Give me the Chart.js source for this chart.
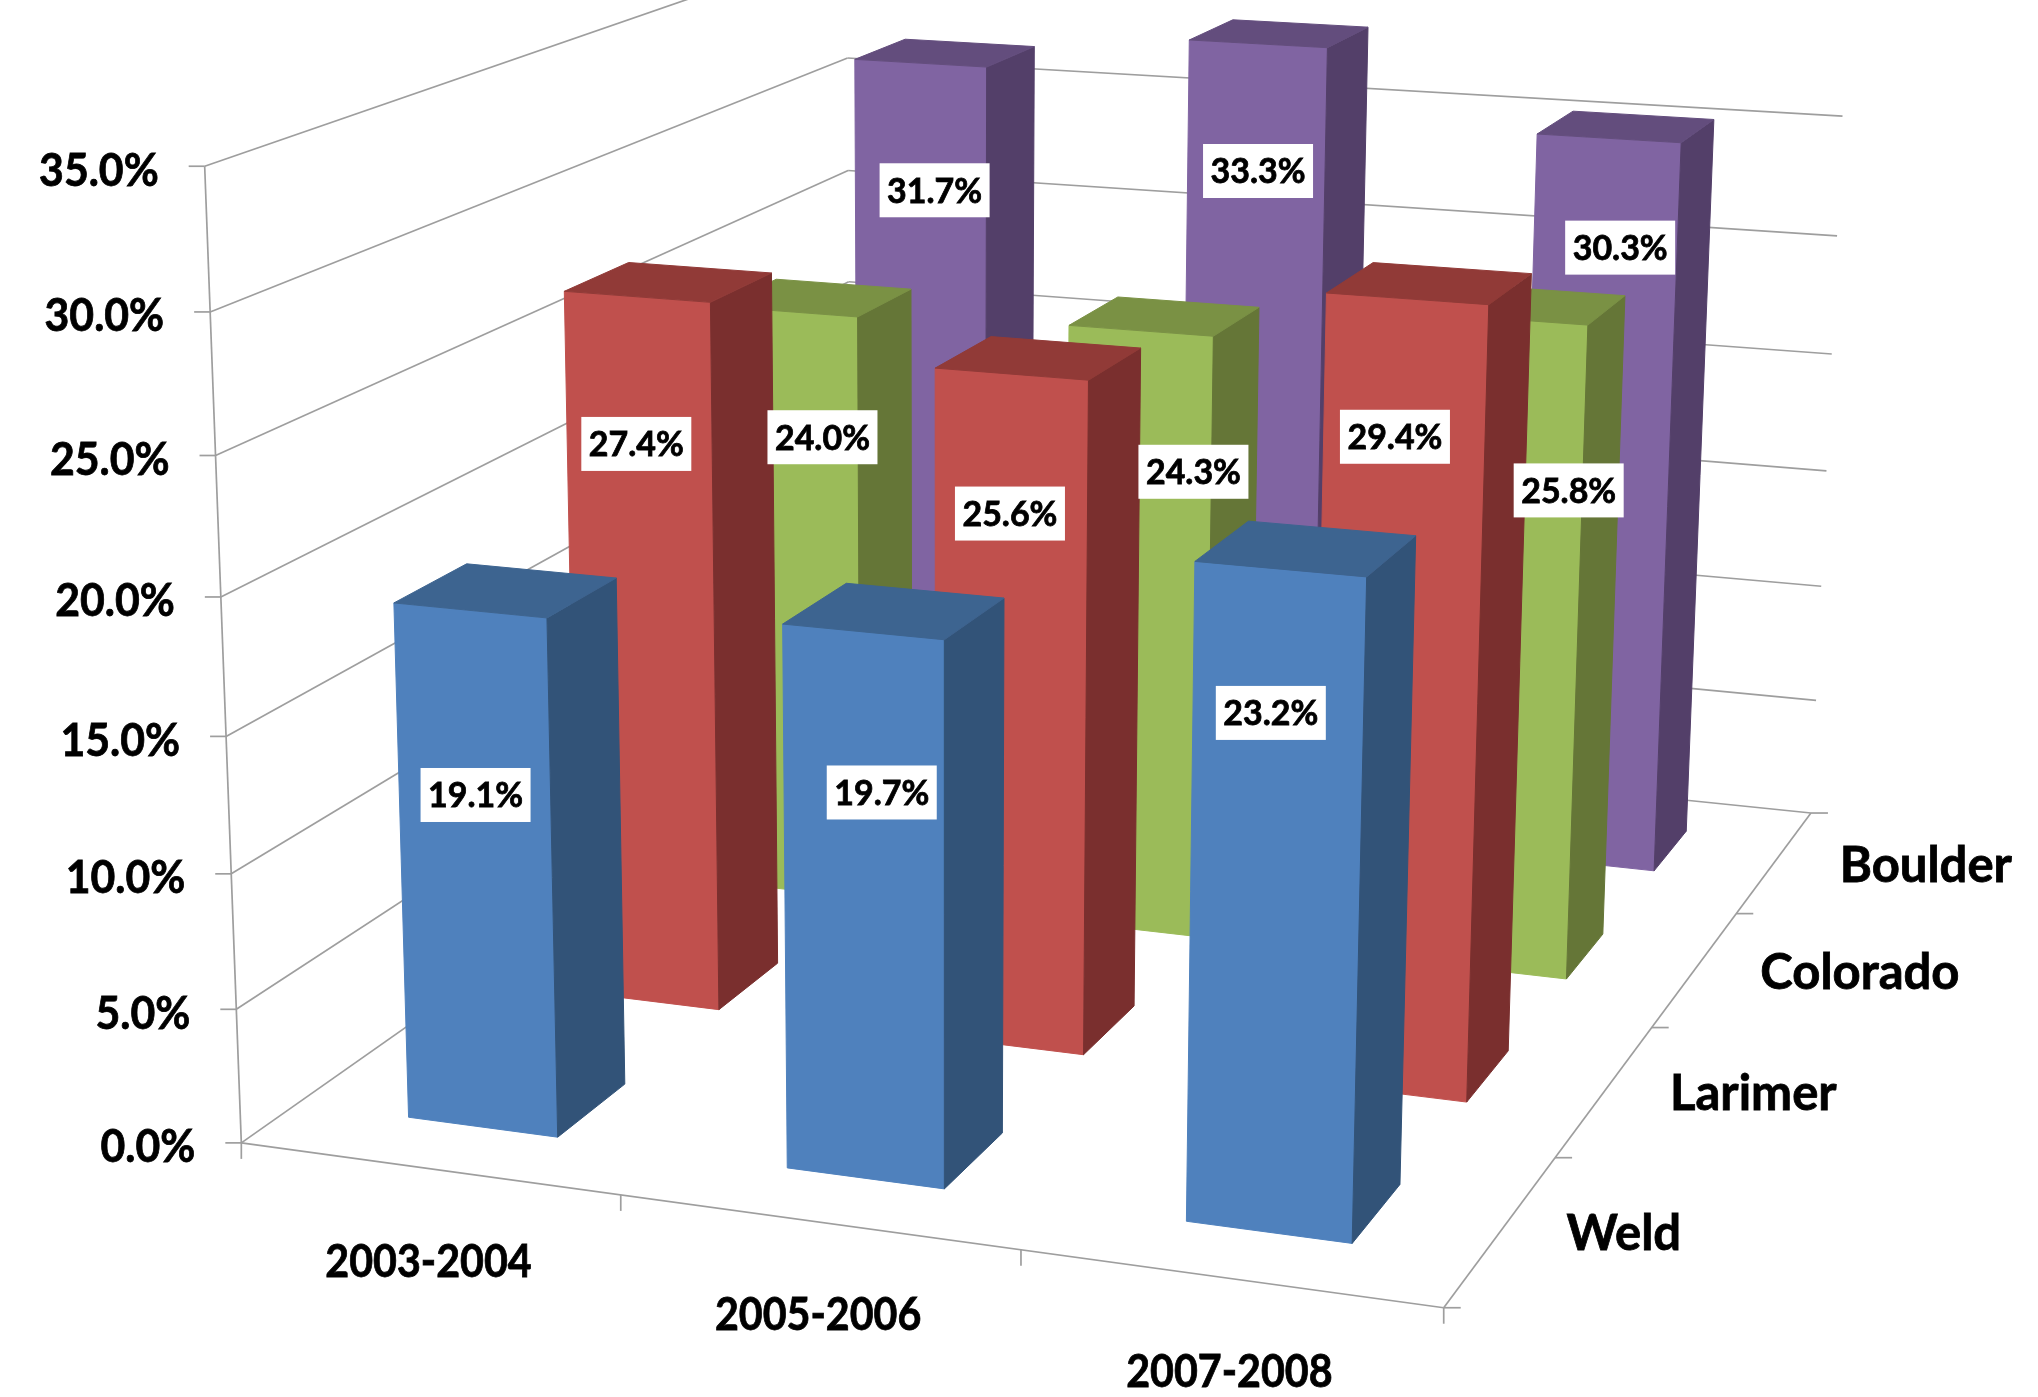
<!DOCTYPE html>
<html>
<head>
<meta charset="utf-8">
<title>Percent by county</title>
<script src="https://cdn.jsdelivr.net/npm/chart.js@4/dist/chart.umd.js"></script>
<style>
  html, body { margin: 0; padding: 0; background: #fff; }
  canvas { display: block; }
</style>
</head>
<body>
<canvas id="countyChart" width="2038" height="1397"></canvas>
<script>
const periods = ['2003-2004', '2005-2006', '2007-2008'];
const counties = ['Weld', 'Larimer', 'Colorado', 'Boulder'];

const weldValues = [19.1, 19.7, 23.2];
const larimerValues = [27.4, 25.6, 29.4];
const coloradoValues = [24.0, 24.3, 25.8];
const boulderValues = [31.7, 33.3, 30.3];

const AXIS_MAX = 35;
const AXIS_STEP = 5;

const GRID_COLOR = '#9e9e9e';
const VALUE_AXIS_FONT = 'bold 45px Lato, sans-serif';
const PERIOD_AXIS_FONT = 'bold 45px Lato, sans-serif';
const COUNTY_AXIS_FONT = 'bold 49px Lato, sans-serif';
const LABEL_FONT = 'bold 35px Lato, sans-serif';

// Plot box corners: [across, depth, height, pageX, pageY], all box coordinates 0..1
const boxCorners = [
    [0, 0, 0, 243, 1144],
    [1, 0, 0, 1443, 1307],
    [1, 1, 0, 1812, 814],
    [0, 1, 0, 847, 713],
    [0, 0, 1, 203, 166],
    [0, 0, 6 / 7, 209, 311],
    [0, 0, 1 / 7, 238, 1010],
    [1, 1, 6 / 7, 1841, 116],
    [1, 1, 1 / 7, 1817, 700],
    [0, 1, 6 / 7, 851, 59]
];

// Plain gaussian elimination, enough for the 11x11 camera system
function solve(A, b) {
    const n = b.length;
    for (let i = 0; i < n; i++) {
        let pivot = i;
        for (let r = i + 1; r < n; r++) {
            if (Math.abs(A[r][i]) > Math.abs(A[pivot][i])) pivot = r;
        }
        [A[i], A[pivot]] = [A[pivot], A[i]];
        [b[i], b[pivot]] = [b[pivot], b[i]];
        for (let r = i + 1; r < n; r++) {
            const f = A[r][i] / A[i][i];
            for (let c = i; c < n; c++) A[r][c] -= f * A[i][c];
            b[r] -= f * b[i];
        }
    }
    const x = new Array(n).fill(0);
    for (let i = n - 1; i >= 0; i--) {
        let s = b[i];
        for (let c = i + 1; c < n; c++) s -= A[i][c] * x[c];
        x[i] = s / A[i][i];
    }
    return x;
}

// Least squares fit of a 3x4 perspective camera
function fitCamera(corners) {
    const rows = [];
    const rhs = [];
    corners.forEach(([u, v, w, px, py]) => {
        rows.push([u, v, w, 1, 0, 0, 0, 0, -px * u, -px * v, -px * w]);
        rhs.push(px);
        rows.push([0, 0, 0, 0, u, v, w, 1, -py * u, -py * v, -py * w]);
        rhs.push(py);
    });
    const N = new Array(11).fill(0).map(() => new Array(11).fill(0));
    const t = new Array(11).fill(0);
    rows.forEach((row, k) => {
        for (let i = 0; i < 11; i++) {
            t[i] += row[i] * rhs[k];
            for (let j = 0; j < 11; j++) N[i][j] += row[i] * row[j];
        }
    });
    return solve(N, t);
}

const cam = fitCamera(boxCorners);

function project(u, v, w) {
    const d = cam[8] * u + cam[9] * v + cam[10] * w + 1;
    return {
        x: (cam[0] * u + cam[1] * v + cam[2] * w + cam[3]) / d,
        y: (cam[4] * u + cam[5] * v + cam[6] * w + cam[7]) / d
    };
}

// Scale values to box coordinates
function across(chart, value) {
    const s = chart.scales.x;
    return s.getDecimalForPixel(s.getPixelForValue(value));
}
function deep(chart, value) {
    const s = chart.scales.depth;
    return s.getDecimalForPixel(s.getPixelForValue(value));
}
function high(chart, value) {
    const s = chart.scales.y;
    return s.getDecimalForPixel(s.getPixelForValue(value));
}

function polygon(ctx, points, fill) {
    ctx.beginPath();
    points.forEach((p, i) => (i ? ctx.lineTo(p.x, p.y) : ctx.moveTo(p.x, p.y)));
    ctx.closePath();
    ctx.fillStyle = fill;
    ctx.strokeStyle = fill;
    ctx.lineWidth = 1;
    ctx.fill();
    ctx.stroke();
}

// Column chart drawn as boxes standing on the floor of the plot
class Bar3dController extends Chart.BarController {
    draw() {
        const chart = this.chart;
        const ctx = chart.ctx;
        const ds = this.getDataset();
        const half = ds.barPercentage / 2;
        const halfDepth = ds.depthPercentage / 2;
        const row = this.index;
        this.getMeta().data.forEach((bar, i) => {
            const value = this.getParsed(i).y;
            const u0 = across(chart, i - half);
            const u1 = across(chart, i + half);
            const v0 = deep(chart, row - halfDepth);
            const v1 = deep(chart, row + halfDepth);
            const h = high(chart, value);
            const fl = project(u0, v0, 0), fr = project(u1, v0, 0), br = project(u1, v1, 0);
            const tfl = project(u0, v0, h), tfr = project(u1, v0, h);
            const tbr = project(u1, v1, h), tbl = project(u0, v1, h);
            polygon(ctx, [fl, fr, tfr, tfl], ds.frontColor);
            polygon(ctx, [fr, br, tbr, tfr], ds.sideColor);
            polygon(ctx, [tfl, tfr, tbr, tbl], ds.topColor);
        });
    }
}
Bar3dController.id = 'bar3d';
Bar3dController.defaults = Chart.BarController.defaults;
Bar3dController.overrides = Chart.BarController.overrides;
Chart.register(Bar3dController);

function line(ctx, a, b) {
    ctx.beginPath();
    ctx.moveTo(a.x, a.y);
    ctx.lineTo(b.x, b.y);
    ctx.stroke();
}

// Narrow, heavy text: Lato squeezed to the widths of a condensed bold face
function heavyText(ctx, text, x, y, squeeze) {
    const width = ctx.measureText(text).width * squeeze;
    ctx.lineWidth = 0.8;
    ctx.strokeStyle = '#000';
    ctx.fillStyle = '#000';
    ctx.strokeText(text, x, y, width);
    ctx.fillText(text, x, y, width);
}

// Walls, floor, tick marks and axis text
const boxPlugin = {
    id: 'box',
    beforeDatasetsDraw(chart) {
        const ctx = chart.ctx;
        const { x: xScale, y: yScale, depth: depthScale } = chart.scales;
        ctx.save();
        ctx.strokeStyle = GRID_COLOR;
        ctx.lineWidth = 1.7;

        yScale.ticks.forEach(tick => {
            const w = high(chart, tick.value);
            const a = project(0, 0, w), b = project(0, 1, w), c = project(1, 1, w);
            line(ctx, a, b);
            line(ctx, b, c);
            line(ctx, a, { x: a.x - 16, y: a.y });
        });
        line(ctx, project(0, 0, 0), project(0, 0, 1));
        line(ctx, project(0, 0, 0), project(1, 0, 0));
        line(ctx, project(1, 0, 0), project(1, 1, 0));

        for (let i = 0; i <= xScale.ticks.length; i++) {
            const p = project(across(chart, i - 0.5), 0, 0);
            line(ctx, p, { x: p.x, y: p.y + 16 });
        }
        for (let i = 0; i <= depthScale.ticks.length; i++) {
            const p = project(1, deep(chart, i - 0.5), 0);
            line(ctx, p, { x: p.x + 17, y: p.y });
        }

        ctx.textBaseline = 'middle';
        ctx.font = VALUE_AXIS_FONT;
        ctx.textAlign = 'right';
        yScale.ticks.forEach(tick => {
            const p = project(0, 0, high(chart, tick.value));
            heavyText(ctx, tick.label, p.x - 46, p.y + 5, 0.95);
        });
        ctx.font = PERIOD_AXIS_FONT;
        ctx.textAlign = 'center';
        xScale.ticks.forEach((tick, i) => {
            const p = project(across(chart, i), 0, 0);
            heavyText(ctx, tick.label, p.x, p.y + 94, 0.915);
        });
        ctx.font = COUNTY_AXIS_FONT;
        ctx.textAlign = 'left';
        depthScale.ticks.forEach((tick, i) => {
            const p = project(1, deep(chart, i), 0);
            heavyText(ctx, tick.label, p.x + 65, p.y + 4, 1);
        });
        ctx.restore();
    },
    // Value labels sit on top of every column
    afterDatasetsDraw(chart) {
        const ctx = chart.ctx;
        ctx.save();
        ctx.font = LABEL_FONT;
        ctx.textAlign = 'center';
        ctx.textBaseline = 'middle';
        chart.data.datasets.forEach((ds, row) => {
            const v0 = deep(chart, row - ds.depthPercentage / 2);
            ds.data.forEach((value, i) => {
                const p = project(across(chart, i), v0, high(chart, value * ds.labelLift[i]));
                const x = p.x + ds.labelShift[i];
                ctx.fillStyle = '#fff';
                ctx.fillRect(x - 55, p.y - 27, 110, 54);
                heavyText(ctx, value.toFixed(1) + '%', x, p.y + 1, 0.97);
            });
        });
        ctx.restore();
    }
};

function series(label, data, frontColor, sideColor, topColor, labelLift, labelShift) {
    return {
        label, data, frontColor, sideColor, topColor, labelLift, labelShift,
        barPercentage: 0.4,
        depthPercentage: 0.4
    };
}

new Chart(document.getElementById('countyChart'), {
    type: 'bar3d',
    data: {
        labels: periods,
        datasets: [
            series(counties[0], weldValues, '#4f81bd', '#325378', '#3d6490', [0.649, 0.712, 0.789], [1, 18, -7]),
            series(counties[1], larimerValues, '#c0504d', '#7a2f2e', '#913a37', [0.797, 0.798, 0.832], [-3, -1, -9]),
            series(counties[2], coloradoValues, '#9bbb59', '#657637', '#7a9144', [0.788, 0.77, 0.744], [33, 54, 62]),
            series(counties[3], boulderValues, '#8064a2', '#533f69', '#634d7d', [0.831, 0.843, 0.854], [14, 2, 15])
        ]
    },
    plugins: [boxPlugin],
    options: {
        responsive: false,
        animation: false,
        layout: { padding: 0 },
        plugins: { legend: { display: false }, tooltip: { enabled: false } },
        scales: {
            x: { type: 'category', display: false, offset: true, ticks: { autoSkip: false } },
            depth: { type: 'category', axis: 'x', labels: counties, display: false, offset: true, ticks: { autoSkip: false } },
            y: {
                type: 'linear',
                display: false,
                min: 0,
                max: AXIS_MAX,
                ticks: { stepSize: AXIS_STEP, autoSkip: false, callback: value => value.toFixed(1) + '%' }
            }
        }
    }
});
</script>
</body>
</html>
